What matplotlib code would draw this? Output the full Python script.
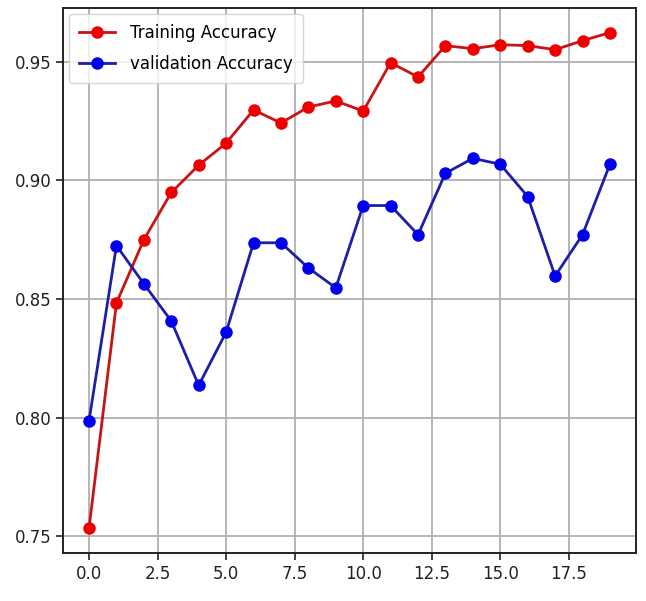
import matplotlib
matplotlib.use("Agg")
import matplotlib.pyplot as plt
import numpy as np

epochs = list(range(20))
train_acc = [0.7534, 0.8483, 0.8750, 0.8949, 0.9064, 0.9157, 0.9297, 0.9242, 0.9309, 0.9335,
             0.9292, 0.9496, 0.9436, 0.9568, 0.9555, 0.9572, 0.9568, 0.9551, 0.9589, 0.9623]
val_acc = [0.7987, 0.8725, 0.8564, 0.8407, 0.8136, 0.8360, 0.8737, 0.8737, 0.8631, 0.8547,
           0.8894, 0.8894, 0.8771, 0.9030, 0.9093, 0.9068, 0.8932, 0.8597, 0.8771, 0.9068]
yticks = [0.75, 0.80, 0.85, 0.90, 0.95]

fig = plt.figure(figsize=(6.46, 6.01), dpi=100)
ax = fig.add_axes([0.0975, 0.080, 0.887, 0.907])
ax.plot(epochs, train_acc, color="#c81414", marker="o", markersize=8, linewidth=2.0,
        markerfacecolor="#ee0000", markeredgecolor="#ee0000",
        label="Training Accuracy")
ax.plot(epochs, val_acc, color="#1e1ea8", marker="o", markersize=8, linewidth=2.0,
        markerfacecolor="#0000ee", markeredgecolor="#0000ee",
        label="validation Accuracy")
ax.set_yticks(yticks)
ax.set_yticklabels([f"{t:.2f}" for t in yticks])
ax.set_xticks(np.arange(0, 19, 2.5))
ax.grid(True, color="#b0b0b0", linewidth=1.3)
ax.tick_params(labelsize=12, length=5, width=1.2, colors="#222222")
for s in ax.spines.values():
    s.set_linewidth(1.4)
    s.set_color("#222222")
ax.legend(loc="upper left", fontsize=12, handlelength=2.2, borderpad=0.6,
          labelspacing=0.8, handletextpad=0.9, borderaxespad=0.35)
fig.savefig("out.png", dpi=100)
